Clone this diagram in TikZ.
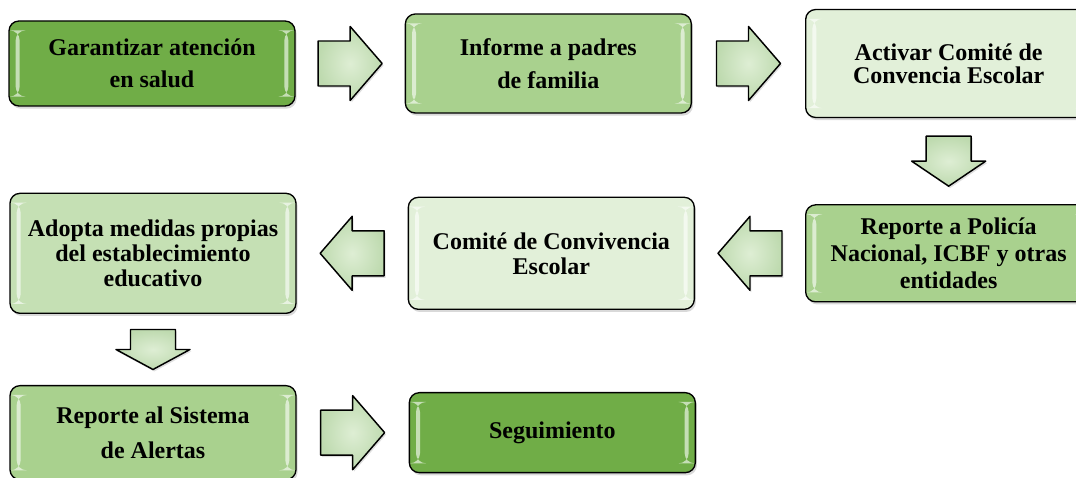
\documentclass[tikz,border=0pt]{standalone}
\usepackage{fontspec}
\setmainfont{Liberation Serif}
\usetikzlibrary{positioning, calc, shadows}

\definecolor{verdeosc}{RGB}{112,173,71}
\definecolor{verdemed}{RGB}{169,209,142}
\definecolor{verdeclaro}{RGB}{197,224,180}
\definecolor{verdepalido}{RGB}{226,240,217}
\definecolor{flechain}{RGB}{222,238,212}
\definecolor{flechaout}{RGB}{190,218,175}

\begin{document}
\begin{tikzpicture}[x=0.75pt, y=0.75pt, line join=round]
\tikzset{
  paso/.style={rectangle, rounded corners=7.5pt, draw=black, line width=1pt,
    align=center, minimum width=214.5pt, inner sep=2pt,
    font=\bfseries\fontsize{18}{#1}\selectfont,
    drop shadow={shadow xshift=1.2pt, shadow yshift=-2pt, opacity=.3},
    path picture={
      \fill[white, opacity=.6] ([xshift=5pt, yshift=7pt]path picture bounding box.south west)
        rectangle ([xshift=8pt, yshift=-7pt]path picture bounding box.north west);
      \fill[white, opacity=.6] ([xshift=-5pt, yshift=7pt]path picture bounding box.south east)
        rectangle ([xshift=-8pt, yshift=-7pt]path picture bounding box.north east);
    }},
  flechabase/.style={draw=black, line width=1.1pt, shading=radial,
    inner color=flechain, outer color=flechaout,
    drop shadow={shadow xshift=1pt, shadow yshift=-1.5pt, opacity=.25}},
  pics/flecha/.style={code={
    \path[flechabase] (-#1/2,-22.5) -- (0,-22.5) -- (0,-37) -- (#1/2,0)
      -- (0,37) -- (0,22.5) -- (-#1/2,22.5) -- cycle;
  }}
}
\useasboundingbox (0,0) rectangle (1076,478);
\clip (0,0) rectangle (1076,478);

% first row
\node[paso=24pt, fill=verdeosc, minimum height=63.75pt] (garantizar) at (152,414.5)
  {Garantizar atención\\en salud};
\node[paso=24.75pt, fill=verdemed, minimum height=74.25pt] (informe) [right=81.75pt of garantizar]
  {Informe a padres\\de familia};
\node[paso=17.25pt, fill=verdepalido, minimum height=81pt] (activar) [right=84.75pt of informe]
  {Activar Comité de\\Convencia Escolar};

% second row
\node[paso=20pt, fill=verdemed, minimum height=72.75pt] (policia) [below=64.5pt of activar]
  {Reporte a Policía\\Nacional, ICBF y otras\\entidades};
\node[paso=18.75pt, fill=verdepalido, minimum height=84pt] (comite) [left=82.5pt of policia]
  {Comité de Convivencia\\Escolar};
\node[paso=18.4pt, fill=verdeclaro, minimum height=90pt] (adopta) [left=83.25pt of comite]
  {Adopta medidas propias\\del establecimiento\\educativo};

% third row
\node[paso=26pt, fill=verdemed, minimum height=70.5pt] (alertas) [below=53.25pt of adopta]
  {Reporte al Sistema\\de Alertas};
\node[paso=24pt, fill=verdeosc, minimum height=60pt] (seguimiento) [right=84pt of alertas]
  {Seguimiento};

% block arrows
\pic at ($(garantizar.east)!.5!(informe.west)$) {flecha=64};
\pic at ($(informe.east)!.5!(activar.west)$) {flecha=64};
\pic[rotate=-90] at ($(activar.south)!.5!(policia.north)$) {flecha=50};
\pic[rotate=180] at ($(policia.west)!.5!(comite.east)$) {flecha=64};
\pic[rotate=180] at ($(comite.west)!.5!(adopta.east)$) {flecha=64};
\pic[rotate=-90] at ($(adopta.south)!.5!(alertas.north)$) {flecha=40};
\pic at ($(alertas.east)!.5!(seguimiento.west)$) {flecha=64};
\end{tikzpicture}
\end{document}
